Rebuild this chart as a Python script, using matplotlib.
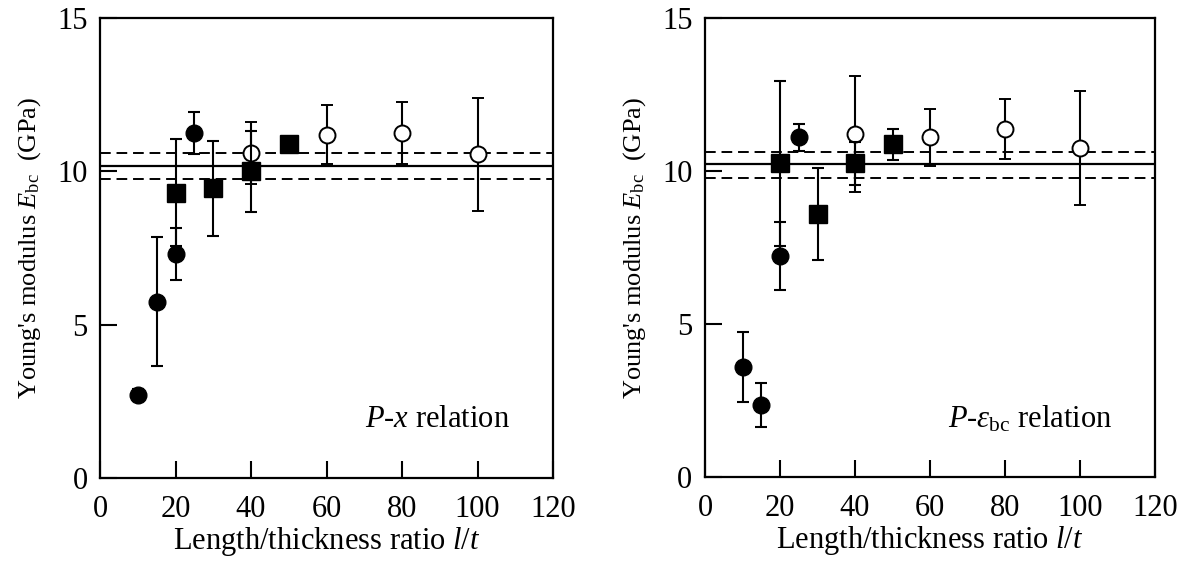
import numpy as np
import matplotlib.pyplot as plt

plt.rcParams['font.family'] = ['Liberation Serif', 'DejaVu Serif']
plt.rcParams['mathtext.fontset'] = 'custom'
plt.rcParams['mathtext.rm'] = 'Liberation Serif'
plt.rcParams['mathtext.it'] = 'Liberation Serif:italic'

# ---- P-x relation (left) ----
px_circ_x = [10, 15, 20, 25]
px_circ_y = [2.7, 5.75, 7.3, 11.25]
px_circ_e = [0.2, 2.1, 0.85, 0.7]
px_sq_x = [20, 30, 40, 50]
px_sq_y = [9.3, 9.45, 10.0, 10.9]
px_sq_e = [1.75, 1.55, 1.33, 0.0]
px_open_x = [40, 60, 80, 100]
px_open_y = [10.6, 11.2, 11.25, 10.55]
px_open_e = [1.0, 0.95, 1.0, 1.85]
px_mean, px_lo, px_hi = 10.18, 9.75, 10.6

# ---- P-eps_bc relation (right) ----
pe_circ_x = [10, 15, 20, 25]
pe_circ_y = [3.6, 2.35, 7.22, 11.1]
pe_circ_e = [1.15, 0.73, 1.1, 0.45]
pe_sq_x = [20, 30, 40, 50]
pe_sq_y = [10.25, 8.6, 10.25, 10.87]
pe_sq_e = [2.7, 1.5, 0.7, 0.5]
pe_open_x = [40, 60, 80, 100]
pe_open_y = [11.2, 11.1, 11.36, 10.75]
pe_open_e = [1.9, 0.93, 0.98, 1.86]
pe_mean, pe_lo, pe_hi = 10.22, 9.77, 10.63

fig = plt.figure(figsize=(11.96, 5.68), dpi=100)
ax1 = fig.add_axes([100/1196, 90/568, 453/1196, 460/568])
ax2 = fig.add_axes([705/1196, 91/568, 450/1196, 459/568])

def draw(ax, cx, cy, ce, sx, sy, se, ox, oy, oe, mean, lo, hi, label):
    ax.axhline(mean, color='black', lw=1.6, zorder=1)
    ax.axhline(lo, color='black', lw=1.4, ls=(0, (5.5, 3)), zorder=1)
    ax.axhline(hi, color='black', lw=1.4, ls=(0, (5.5, 3)), zorder=1)
    kw = dict(ecolor='black', elinewidth=1.5, capsize=4.5, capthick=1.5, ls='none')
    ax.errorbar(ox, oy, yerr=oe, fmt='o', ms=11.5, mfc='white', mec='black',
                mew=1.4, zorder=3, **kw)
    ax.errorbar(sx, sy, yerr=se, fmt='s', ms=13, color='black', zorder=4, **kw)
    ax.errorbar(cx, cy, yerr=ce, fmt='o', ms=12, color='black', zorder=5, **kw)
    ax.set_xlim(0, 120)
    ax.set_ylim(0, 15)
    ax.set_xticks([0, 20, 40, 60, 80, 100, 120])
    ax.set_yticks([0, 5, 10, 15])
    ax.tick_params(direction='in', length=12, width=1.5, labelsize=22,
                   top=False, right=False)
    ax.tick_params(axis='x', pad=12)
    ax.tick_params(axis='y', pad=9)
    for sp in ax.spines.values():
        sp.set_linewidth(1.6)
    ax.set_xlabel('Length/thickness ratio $l/t$', fontsize=22, labelpad=1)
    ax.set_ylabel("Young's modulus $E_{\\mathrm{bc}}$  (GPa)", fontsize=19, labelpad=10)
    ax.text(108.5, 1.9, label, fontsize=22, ha='right', va='center')

draw(ax1, px_circ_x, px_circ_y, px_circ_e, px_sq_x, px_sq_y, px_sq_e,
     px_open_x, px_open_y, px_open_e, px_mean, px_lo, px_hi,
     '$P$-$x$ relation')
draw(ax2, pe_circ_x, pe_circ_y, pe_circ_e, pe_sq_x, pe_sq_y, pe_sq_e,
     pe_open_x, pe_open_y, pe_open_e, pe_mean, pe_lo, pe_hi,
     '$P$-$\\varepsilon_{\\mathrm{bc}}$ relation')

fig.savefig('out.png', dpi=100)
